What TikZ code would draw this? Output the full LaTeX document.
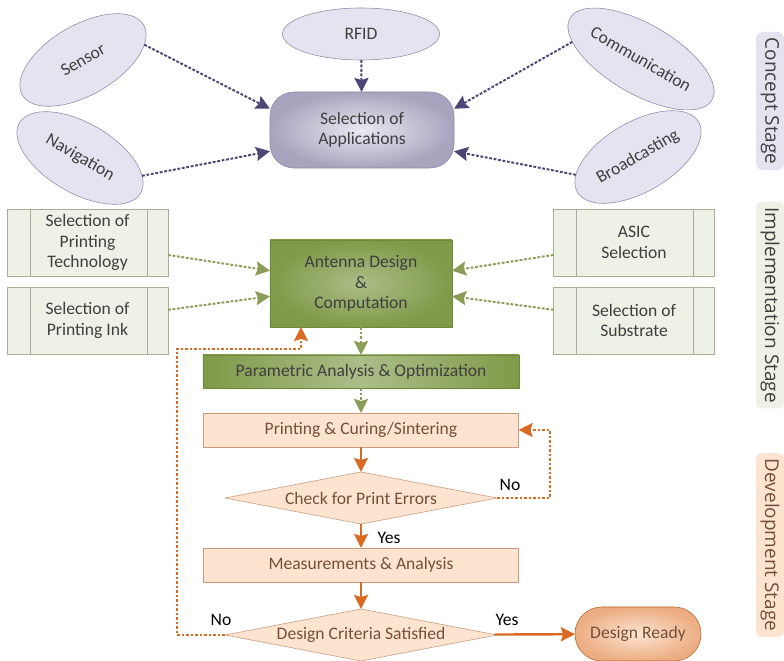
\documentclass[tikz,border=0pt]{standalone}
\usepackage{fontspec}
\setmainfont{Carlito}
\newfontfamily\stagefont{Open Sans}
\usetikzlibrary{shapes.geometric,arrows.meta}
\definecolor{lilac}{HTML}{E6E3F0}
\definecolor{lilacline}{HTML}{8E89A8}
\definecolor{plum}{HTML}{4E4577}
\definecolor{sage}{HTML}{EEF1E6}
\definecolor{sageline}{HTML}{A7B096}
\definecolor{moss}{HTML}{8A9C57}
\definecolor{olive}{HTML}{7F9A48}
\definecolor{oliveline}{HTML}{6F8A3C}
\definecolor{peach}{HTML}{FCE4D1}
\definecolor{peachline}{HTML}{C99A7C}
\definecolor{rust}{HTML}{D96A22}
\definecolor{brownish}{HTML}{74503A}
\definecolor{textgray}{HTML}{3F3F3F}

\begin{document}
\begin{tikzpicture}[x=0.025cm,y=-0.025cm]
\tikzset{
  txt/.style={font=\fontsize{12.5}{14.5}\selectfont, text=textgray, align=center, inner sep=1pt, outer sep=0pt},
  app/.style={txt, draw=lilacline, fill=lilac, ellipse, minimum width=3.5cm, minimum height=1.75cm},
  choice/.style={txt, draw=sageline, fill=sage, minimum width=4.025cm, minimum height=1.675cm,
    path picture={
      \draw[sageline] ([xshift=5.75mm]path picture bounding box.north west) -- ([xshift=5.75mm]path picture bounding box.south west);
      \draw[sageline] ([xshift=-5.25mm]path picture bounding box.north east) -- ([xshift=-5.25mm]path picture bounding box.south east);}},
  work/.style={txt, draw=peachline, fill=peach, text=brownish, minimum width=7.875cm, minimum height=0.85cm},
  check/.style={txt, draw=peachline, fill=peach, text=brownish, diamond, aspect=5.2, minimum width=6.8cm, minimum height=1.3cm},
  stage/.style={font=\stagefont\fontsize{13.5}{15}\selectfont, rotate=-90, rounded corners=4pt, inner xsep=4pt, minimum height=0.575cm},
  lbl/.style={font=\fontsize{12.5}{14}\selectfont, inner sep=1pt},
  purplearrow/.style={plum, line width=1.4pt, dash pattern=on 2pt off 1.2pt, -{Stealth[length=10pt,width=10pt,inset=1.5pt]}},
  greenarrow/.style={moss, line width=1.4pt, dash pattern=on 2pt off 1.2pt, -{Stealth[length=10pt,width=10pt,inset=1.5pt]}},
  orangearrow/.style={rust, line width=1.7pt, -{Stealth[length=10pt,width=10pt,inset=1.5pt]}},
  loop/.style={rust, line width=1.4pt, dash pattern=on 2pt off 1.2pt, -{Stealth[length=10pt,width=10pt,inset=1.5pt]}}
}
\useasboundingbox (0,0) rectangle (784,661);
\node[app, rotate=30] (sensor) at (83,60) {Sensor};
\node[app, rotate=-30] (nav) at (80,158) {Navigation};
\node[app, minimum width=3.925cm, minimum height=1.3cm] (rfid) at (361,34) {RFID};
\node[app, rotate=-30] (comm) at (641,59) {Communication};
\node[app, rotate=30] (broad) at (638,157) {Broadcasting};
\node[txt, draw=lilacline, rounded corners=0.6cm, inner color=lilac!80!white, outer color=lilacline!70!lilac, minimum width=4.6cm, minimum height=1.9cm] (sel) at (362,130) {Selection of\\Applications};
\draw[purplearrow] (sensor.-16) -- (sel.167);
\draw[purplearrow] (nav.14) -- (sel.193);
\draw[purplearrow] (rfid) -- (sel);
\draw[purplearrow] (comm.196) -- (sel.13);
\draw[purplearrow] (broad.166) -- (sel.347);
\node[choice] (tech) at (87.5,242.5) {Selection of\\Printing\\Technology};
\node[choice] (ink) at (87.5,320.5) {Selection of\\Printing Ink};
\node[choice] (asic) at (634,242.5) {ASIC\\Selection};
\node[choice] (subs) at (634,320.5) {Selection of\\Substrate};
\node[txt, draw=oliveline, inner color=olive!65!white, outer color=olive, minimum width=4.55cm, minimum height=2.175cm] (ant) at (361,283.5) {Antenna Design\\\&\\Computation};
\node[txt, draw=oliveline, left color=olive, right color=olive, middle color=olive!65!white, minimum width=7.9cm, minimum height=0.825cm] (param) at (361,371.5) {Parametric Analysis \& Optimization};
\draw[greenarrow] (tech) -- (ant.172);
\draw[greenarrow] (ink) -- (ant.188);
\draw[greenarrow] (asic) -- (ant.8);
\draw[greenarrow] (subs) -- (ant.352);
\draw[greenarrow] (ant) -- (param);
\node[work] (print) at (361,430) {Printing \& Curing/Sintering};
\node[check] (errs) at (361,498) {Check for Print Errors};
\node[work] (meas) at (361,565) {Measurements \& Analysis};
\node[check] (crit) at (361,635) {Design Criteria Satisfied};
\node[txt, draw=rust!70!brownish, text=brownish, rounded corners=0.67cm, inner color=peach, outer color=rust!45!peach, minimum width=3.15cm, minimum height=1.35cm] (ready) at (638,634) {Design Ready};
\draw[greenarrow] (param) -- (print);
\draw[orangearrow] (print) -- (errs);
\draw[orangearrow] (errs) -- (meas);
\draw[orangearrow] (meas) -- (crit);
\draw[orangearrow] (crit) -- (ready);
\coordinate (redo) at (550,430);
\coordinate (back) at (177,349);
\draw[loop] (errs.east) -| (redo) -- (print.east);
\draw[loop] (crit.west) -| (back) -| ([xshift=-1.5cm]ant.south);
\node[lbl] (no1) at (510,485) {No};
\node[lbl] (yes1) at (389,538) {Yes};
\node[lbl] (no2) at (221,620) {No};
\node[lbl] (yes2) at (507,620) {Yes};
\node[stage, fill=lilac, text=textgray] (concept) at (770,101) {Concept Stage};
\node[stage, fill=sage, text=textgray] (impl) at (770,305) {Implementation Stage};
\node[stage, fill=peach, text=brownish] (devel) at (770,545) {Development Stage};
\end{tikzpicture}
\end{document}
